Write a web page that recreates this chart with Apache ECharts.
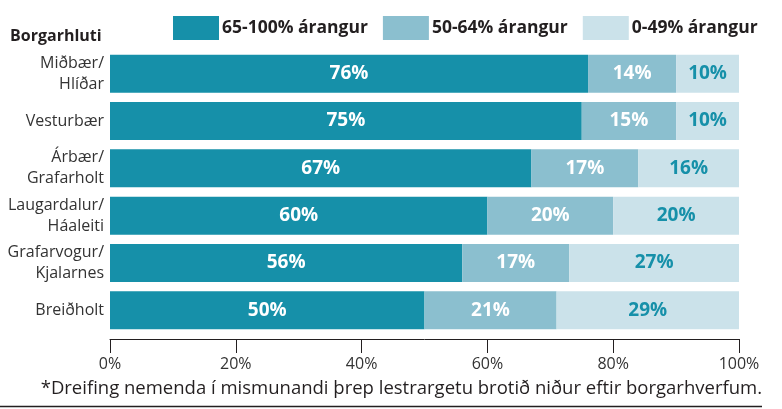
<!DOCTYPE html>
<html>
<head>
<meta charset="utf-8">
<script src="https://cdn.jsdelivr.net/npm/echarts@6/dist/echarts.min.js"></script>
<style>
  html, body { margin: 0; padding: 0; background: #fff; }
  #chart { width: 782px; height: 409px; }
</style>
</head>
<body>
<div id="chart"></div>
<script>
const districts = ["Miðbær/\nHlíðar", "Vesturbær", "Árbær/\nGrafarholt", "Laugardalur/\nHáaleiti", "Grafarvogur/\nKjalarnes", "Breiðholt"];
const high = [76, 75, 67, 60, 56, 50];
const mid = [14, 15, 17, 20, 17, 21];
const low = [10, 10, 16, 20, 27, 29];
const seriesNames = ["65-100% árangur", "50-64% árangur", "0-49% árangur"];
const xTicks = [0, 20, 40, 60, 80, 100];

const font = "'Open Sans', 'Noto Sans', sans-serif";
const colors = ["#1690a9", "#8bbfcf", "#cbe2ea"];
const labelColors = ["#ffffff", "#ffffff", "#1690a9"];

let chart = echarts.init(document.getElementById("chart"));

function makeSeries(name, data, i) {
  return {
    type: "bar",
    name: name,
    stack: "total",
    data: data,
    barWidth: 38,
    itemStyle: { color: colors[i] },
    label: {
      show: true,
      position: "inside",
      formatter: "{c}%",
      color: labelColors[i],
      fontFamily: font,
      fontWeight: "bold",
      fontSize: 19,
    },
  };
}

chart.setOption({
  animation: false,
  title: {
    text: "Borgarhluti",
    left: 10,
    top: 28,
    padding: 0,
    textStyle: { fontFamily: font, fontWeight: "bold", fontSize: 16, color: "#231f20" },
  },
  legend: {
    left: 173,
    top: 16,
    padding: 0,
    itemWidth: 46,
    itemHeight: 24,
    itemGap: 15,
    icon: "rect",
    textStyle: { fontFamily: font, fontWeight: "bold", fontSize: 17.5, color: "#231f20", padding: [0, 0, 0, -2] },
    data: seriesNames,
  },
  grid: { left: 110, right: 43, top: 50, bottom: 75 },
  xAxis: {
    type: "value",
    min: 0,
    max: 100,
    interval: 20,
    offset: 5,
    axisLine: { show: true, lineStyle: { color: "#231f20", width: 1 } },
    axisTick: { show: true, length: 14, lineStyle: { color: "#231f20" } },
    splitLine: { show: false },
    axisLabel: {
      formatter: (v) => (xTicks.includes(v) ? v + "%" : ""),
      fontFamily: font,
      fontSize: 16,
      color: "#333",
      margin: 17,
    },
  },
  yAxis: {
    type: "category",
    inverse: true,
    data: districts,
    axisLine: { show: false },
    axisTick: { show: false },
    axisLabel: {
      fontFamily: font,
      fontSize: 16,
      color: "#333",
      lineHeight: 21,
      margin: 6,
    },
  },
  series: [
    makeSeries(seriesNames[0], high, 0),
    makeSeries(seriesNames[1], mid, 1),
    makeSeries(seriesNames[2], low, 2),
  ],
  graphic: [
    {
      type: "text",
      right: 20,
      top: 379,
      style: {
        text: "*Dreifing nemenda í mismunandi þrep lestrargetu brotið niður eftir borgarhverfum.",
        fontFamily: font,
        fontSize: 18.5,
        fill: "#231f20",
      },
    },
    {
      type: "line",
      shape: { x1: 0, y1: 406.5, x2: 762, y2: 406.5 },
      style: { stroke: "#231f20", lineWidth: 1.5 },
    },
  ],
});
</script>
</body>
</html>
